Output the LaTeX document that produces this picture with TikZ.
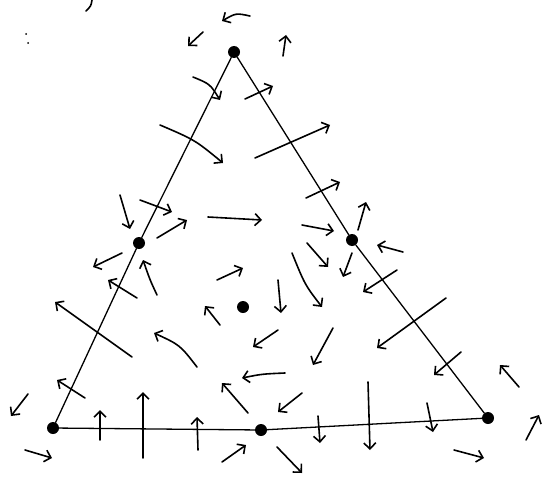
\documentclass[tikz,border=0pt]{standalone}
\usetikzlibrary{arrows.meta}
\begin{document}
\begin{tikzpicture}[x=1pt,y=-1pt,
  stroke/.style={line width=1.6pt, line cap=round, line join=round},
  edge/.style={line width=1.3pt, line cap=round},
  vec/.style={stroke, -{Straight Barb[length=6pt,width=12pt,line width=1.6pt]}},
  dotnode/.style={circle, fill=black, inner sep=0pt, minimum size=12pt}]
\useasboundingbox (0,0) rectangle (548,487);
% vertices and fixed points
\node[dotnode] (T)  at (234,52)  {};
\node[dotnode] (L)  at (53,428)  {};
\node[dotnode] (R)  at (488,418) {};
\node[dotnode] (ML) at (139,243) {};
\node[dotnode] (MR) at (352,240) {};
\node[dotnode] (B)  at (261,430) {};
\node[dotnode] (C)  at (243,307) {};
% triangle edges
\draw[edge] (T) -- (ML) -- (L);
\draw[edge] (T) -- (MR) -- (R);
\draw[edge] (L) -- (B) -- (R);
% stray marks
\draw[stroke] (92,0) .. controls (91,6) .. (86,11);
\fill (26,34) circle (1pt);
\fill (28,43) circle (1pt);
% vector field
\draw[vec] (250,16) .. controls (236,13) .. (222,21);
\draw[vec] (203,32) -- (188,46);
\draw[vec] (283,56) -- (286,35);
\draw[vec] (193,77) .. controls (210,84) .. (220,100);
\draw[vec] (245,99) -- (273,86);
\draw[vec] (160,125) .. controls (195,140) .. (223,163);
\draw[vec] (255,158) -- (330,125);
\draw[vec] (120,195) -- (130,229);
\draw[vec] (140,200) -- (172,212);
\draw[vec] (157,238) -- (187,220);
\draw[vec] (208,217) -- (262,220);
\draw[vec] (306,198) -- (340,182);
\draw[vec] (302,225) -- (334,231);
\draw[vec] (358,230) -- (366,202);
\draw[vec] (403,252) -- (377,245);
\draw[vec] (307,243) -- (328,267);
\draw[vec] (292,253) .. controls (305,285) .. (322,307);
\draw[vec] (278,280) -- (281,313);
\draw[vec] (352,253) -- (343,277);
\draw[vec] (397,270) -- (363,292);
\draw[vec] (217,280) -- (243,268);
\draw[vec] (220,325) -- (205,306);
\draw[vec] (157,295) .. controls (150,280) .. (143,260);
\draw[vec] (122,253) -- (93,267);
\draw[vec] (137,298) -- (108,280);
\draw[vec] (132,357) -- (55,302);
\draw[vec] (197,367) .. controls (180,345) .. (154,333);
\draw[vec] (85,398) -- (57,380);
\draw[vec] (28,394) -- (11,416);
\draw[vec] (25,450) -- (52,458);
\draw[vec] (100,440) -- (100,410);
\draw[vec] (143,458) -- (143,392);
\draw[vec] (198,450) -- (197,417);
\draw[vec] (248,413) -- (222,383);
\draw[vec] (285,373) .. controls (262,374) .. (242,378);
\draw[vec] (278,330) -- (253,347);
\draw[vec] (333,328) -- (313,365);
\draw[vec] (302,393) -- (278,412);
\draw[vec] (222,462) -- (246,445);
\draw[vec] (277,447) -- (302,473);
\draw[vec] (318,416) -- (320,443);
\draw[vec] (368,382) -- (370,450);
\draw[vec] (427,403) -- (433,432);
\draw[vec] (446,298) -- (377,348);
\draw[vec] (461,352) -- (434,375);
\draw[vec] (519,387) -- (500,365);
\draw[vec] (526,440) -- (539,415);
\draw[vec] (454,450) -- (484,458);
\end{tikzpicture}
\end{document}
